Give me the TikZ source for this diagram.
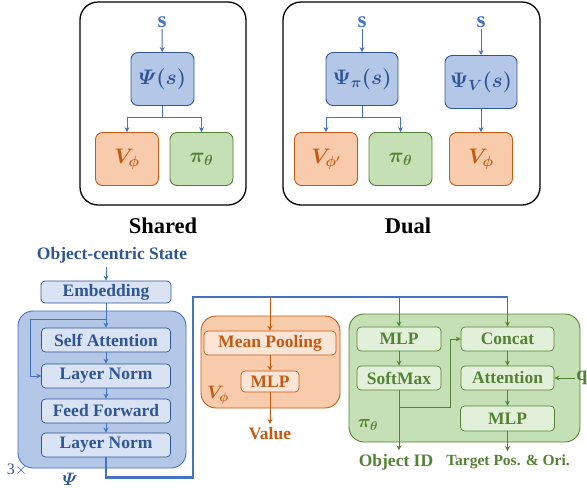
\RequirePackage{fix-cm}
\documentclass[tikz,border=0pt]{standalone}
\usepackage{amsmath}
\usepackage{amssymb}
\usepackage[no-math]{fontspec}
\setmainfont{Liberation Serif}
\usepackage{xcolor}
\usepackage{tikz}
\usetikzlibrary{positioning,arrows.meta}

\definecolor{encfill}{HTML}{B4C7E7}
\definecolor{encline}{HTML}{2F5597}
\definecolor{lnblue}{HTML}{4472C4}
\definecolor{layfill}{HTML}{DAE3F3}
\definecolor{valfill}{HTML}{F8CBAD}
\definecolor{valline}{HTML}{C55A11}
\definecolor{valin}{HTML}{FBE5D6}
\definecolor{polfill}{HTML}{C5E0B4}
\definecolor{polline}{HTML}{548235}
\definecolor{polin}{HTML}{E2F0D9}

\newcommand{\fsz}[1]{\fontsize{#1}{#1}\selectfont}

\begin{document}
\begin{tikzpicture}[x=1pt, y=-1pt, line width=1pt, >={Stealth[length=5pt,width=5pt]},
    panel/.style={draw, line width=1.3pt, rounded corners=18pt},
    blk/.style={draw, rounded corners=7pt, line width=0.9pt, inner sep=0pt,
        minimum width=63pt, minimum height=53pt, font=\fsz{21}\boldmath},
    net/.style={blk, draw=encline, fill=encfill, text=encline},
    val/.style={blk, draw=valline, fill=valfill, text=valline},
    pol/.style={blk, draw=polline, fill=polfill, text=polline},
    txt/.style={font=\fsz{17.5}\bfseries},
    inp/.style={font=\fsz{23}\bfseries, text=lnblue, inner sep=1pt},
    lay/.style={txt, draw, rounded corners=4pt, line width=0.7pt, inner sep=0pt,
        minimum width=129pt, minimum height=24pt},
    enc/.style={lay, draw=encline, fill=layfill, text=encline},
    vin/.style={lay, draw=valline, fill=valin, text=valline},
    pin/.style={lay, draw=polline, fill=polin, text=polline}]
    \useasboundingbox (0,0) rectangle (587,491);

    % shared
    \draw[panel] (80,2) rectangle (246,205);
    \node[inp] (s1) at (162,22) {s};
    \node[net] (psi) at (162.5,79) {$\varPsi(s)$};
    \node[val] (v1) at (127,159) {$V_\phi$};
    \node[pol] (pi1) at (201.5,159) {$\pi_\theta$};
    \path (s1) edge[->, lnblue] (psi);
    \draw[->, lnblue] (psi.south) -- ++(0,12) -| (v1);
    \draw[->, lnblue] (psi.south) -- ++(0,12) -| (pi1);
    \node[font=\fsz{22.5}\bfseries] (shared) at (163,226) {Shared};

    % dual
    \draw[panel] (283,2) rectangle (540,205);
    \node[inp] (s2) at (362,22) {s};
    \node[net, minimum width=72pt] (psip) at (362,79) {$\Psi_\pi(s)$};
    \node[val] (vp) at (326,159) {$V_{\phi'}$};
    \node[pol] (pi2) at (400.5,159) {$\pi_\theta$};
    \node[inp] (s3) at (481,22) {s};
    \node[net, minimum width=72pt] (psiv) at (481,82) {$\Psi_V(s)$};
    \node[val] (v2) at (481,159) {$V_\phi$};
    \path (s2) edge[->, lnblue] (psip);
    \path (s3) edge[->, lnblue] (psiv);
    \path (psiv) edge[->, lnblue] (v2);
    \draw[->, lnblue] (psip.south) -- ++(0,12) -| (vp);
    \draw[->, lnblue] (psip.south) -- ++(0,12) -| (pi2);
    \node[font=\fsz{22.5}\bfseries] (dual) at (408,226) {Dual};

    % encoder
    \node[txt, text=encline] (obs) at (112,255) {Object-centric State};
    \draw[draw=lnblue, fill=encfill, line width=0.9pt, rounded corners=15pt] (18,311) rectangle (186,468);
    \node[enc, minimum width=130pt, minimum height=22pt] (emb) at (106,292) {Embedding};
    \node[enc] (sa) at (106,340) {Self Attention};
    \node[enc] (ln1) at (106,376) {Layer Norm};
    \node[enc] (ff) at (106,411) {Feed Forward};
    \node[enc] (ln2) at (106,445) {Layer Norm};
    \draw[->, lnblue] (emb.north |- obs.south) -- (emb);
    \foreach \a/\b in {emb/sa, sa/ln1, ln1/ff, ff/ln2}
        \draw[->, lnblue] (\a) -- (\b);
    \coordinate (res) at (106,319);
    \draw[->, lnblue] (res) -- ++(-76,0) |- (ln1);
    \node[text=encline, font=\fsz{16}] (rep) at (17,470) {3$\times$};
    \node[text=encline, font=\fsz{18}\boldmath] (psil) at (70,479) {$\varPsi$};

    % feature line
    \coordinate (turn) at (193,297);
    \coordinate (bus) at (507.5,297);
    \draw[lnblue, line width=2.5pt] (ln2.south) -- ++(0,20) -| (turn) -- (bus);

    % value head
    \draw[draw=valline, fill=valfill, line width=0.9pt, rounded corners=15pt] (201,316) rectangle (340,408);
    \node[vin, minimum width=132pt] (pool) at (270,343) {Mean Pooling};
    \node[vin, minimum width=58pt, minimum height=21pt] (vmlp) at (270,381.5) {MLP};
    \node[txt, text=valline] (value) at (270,434) {Value};
    \node[text=valline, font=\fsz{18}\boldmath] (vlab) at (218,395) {$V_\phi$};
    \draw[->, valline] (pool.north |- bus) -- (pool);
    \draw[->, valline] (pool) -- (vmlp);
    \draw[->, valline] (vmlp) -- (value);

    % policy head
    \draw[draw=polline, fill=polfill, line width=0.9pt, rounded corners=15pt] (349,314) rectangle (580,442);
    \node[pin, minimum width=84pt] (pmlp) at (399,339) {MLP};
    \node[pin, minimum width=84pt] (soft) at (399,378) {SoftMax};
    \node[pin, minimum width=93pt] (cat) at (507.5,339) {Concat};
    \node[pin, minimum width=93pt] (att) at (507.5,378) {Attention};
    \node[pin, minimum width=94pt, minimum height=25pt] (amlp) at (507.5,418.5) {MLP};
    \node[txt, text=polline] (oid) at (396,462) {Object ID};
    \node[txt, text=polline, font=\fsz{15.5}\bfseries] (tgt) at (508,462) {Target Pos. \& Ori.};
    \node[inp, text=polline, font=\fsz{20}\bfseries] (q) at (582,378) {q};
    \node[text=polline, font=\fsz{18}\boldmath] (plab) at (368,425) {$\pi_\theta$};
    \draw[->, polline] (pmlp.north |- bus) -- (pmlp);
    \draw[->, polline] (bus) -- (cat);
    \foreach \a/\b in {pmlp/soft, cat/att, att/amlp}
        \draw[->, polline] (\a) -- (\b);
    \draw[->, polline] (soft.south) -- (soft.south |- oid.north);
    \draw[->, polline] (amlp.south) -- (amlp.south |- tgt.north);
    \draw[->, polline] (soft.south) ++(0,17) -- ++(51,0) |- (cat);
    \draw[->, polline] (q) -- (att);
\end{tikzpicture}
\end{document}
